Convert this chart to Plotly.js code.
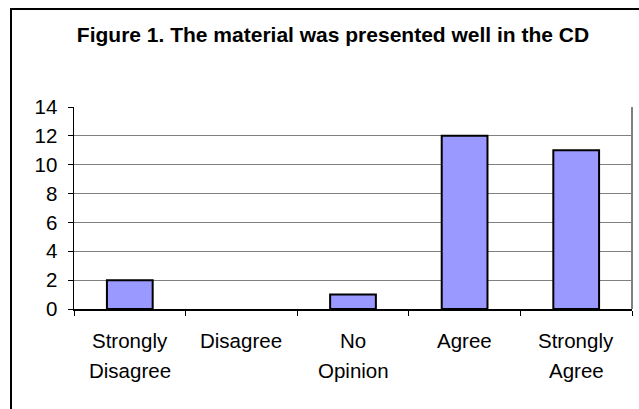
<!DOCTYPE html>
<html>
<head>
<meta charset="utf-8">
<script src="https://cdn.plot.ly/plotly-3.0.1.min.js"></script>
<style>
html,body{margin:0;padding:0;background:#fff;}
#chart{width:639px;height:409px;}
</style>
</head>
<body>
<div id="chart"></div>
<script>
const categories = ["Strongly Disagree", "Disagree", "No Opinion", "Agree", "Strongly Agree"];
const labelLine1 = ["Strongly", "Disagree", "No", "Agree", "Strongly"];
const labelLine2 = ["Disagree", "", "Opinion", "", "Agree"];
const values = [2, 0, 1, 12, 11];
const titleText = "<b>Figure 1. The material was presented well in the CD</b>";

const FONT = "Liberation Sans, Arial, sans-serif";
const W = 639, H = 409;
const L = 74, R = 7, T = 107, B = 100;
const plotH = H - T - B;
const py = (pix) => (H - B - pix) / plotH; // pixel y -> paper y

const annotations = [];
categories.forEach((c, i) => {
  annotations.push({x: c, xref: 'x', y: py(340), yref: 'paper', text: labelLine1[i],
    showarrow: false, xanchor: 'center', yanchor: 'middle', font: {family: FONT, size: 20.5, color: '#000'}});
  if (labelLine2[i]) {
    annotations.push({x: c, xref: 'x', y: py(370), yref: 'paper', text: labelLine2[i],
      showarrow: false, xanchor: 'center', yanchor: 'middle', font: {family: FONT, size: 20.5, color: '#000'}});
  }
});

const data = [{
  type: 'bar',
  x: categories,
  y: values,
  marker: {color: '#9999FF', line: {color: '#000', width: values.map(v => v === 0 ? 0 : 2)}},
  hoverinfo: 'x+y'
}];

const layout = {
  width: W, height: H,
  margin: {l: L, r: R, t: T, b: B, pad: 0},
  paper_bgcolor: '#fff', plot_bgcolor: '#fff',
  showlegend: false,
  bargap: 0.59,
  font: {family: FONT, size: 20.5, color: '#000'},
  title: {text: titleText, font: {family: FONT, size: 21, color: '#000'},
    xref: 'container', x: 333 / W, xanchor: 'center',
    yref: 'container', y: 1 - 35 / H, yanchor: 'middle'},
  xaxis: {type: 'category', showticklabels: false, tickson: 'boundaries', ticks: 'outside',
    ticklen: 5, tickcolor: '#000', tickwidth: 1, showline: true, linecolor: '#000', linewidth: 1.5,
    showgrid: false, zeroline: false, fixedrange: true},
  yaxis: {range: [0, 14], dtick: 2, tick0: 0, ticks: 'outside', ticklen: 5, tickcolor: '#000', tickwidth: 1,
    showline: true, linecolor: '#000', linewidth: 1.5, showgrid: true, gridcolor: '#808080', gridwidth: 1.2,
    zeroline: false, ticklabelstandoff: 6, tickfont: {family: FONT, size: 20.5, color: '#000'}, fixedrange: true},
  shapes: [
    {type: 'line', xref: 'paper', yref: 'paper', x0: 1, x1: 1, y0: 0, y1: 1, line: {color: '#808080', width: 2}},
    {type: 'line', xref: 'paper', yref: 'paper', x0: (11 - L) / (W - L - R), x1: (11 - L) / (W - L - R),
      y0: py(8), y1: py(H + 2), line: {color: '#000', width: 2}},
    {type: 'line', xref: 'paper', yref: 'paper', x0: (10 - L) / (W - L - R), x1: (W + 2 - L) / (W - L - R),
      y0: py(9), y1: py(9), line: {color: '#000', width: 2}}
  ],
  annotations: annotations
};

Plotly.newPlot('chart', data, layout, {displayModeBar: false, staticPlot: true});
</script>
</body>
</html>
